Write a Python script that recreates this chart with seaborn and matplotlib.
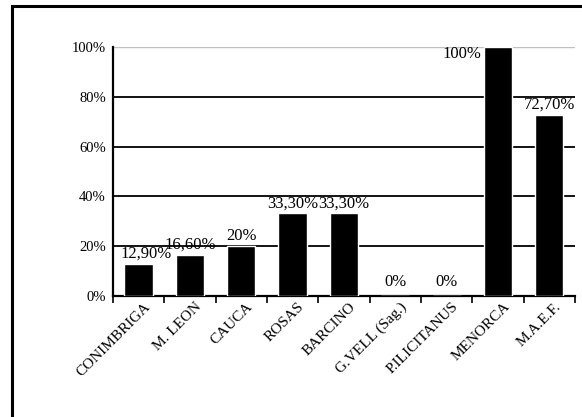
import numpy as np
import pandas as pd
import matplotlib
matplotlib.use('Agg')
import matplotlib.pyplot as plt
import matplotlib.transforms as mtransforms
import seaborn as sns
from matplotlib.patches import Rectangle

# data
sites = ['CONIMBRIGA', 'M. LEON', 'CAUCA', 'ROSAS', 'BARCINO',
         'G.VELL (Sag.)', 'P.ILICITANUS', 'MENORCA', 'M.A.E.F.']
values = [12.9, 16.6, 20.0, 33.3, 33.3, 0.0, 0.0, 100.0, 72.7]
value_labels = ['12,90%', '16,60%', '20%', '33,30%', '33,30%', '0%', '0%', '100%', '72,70%']
y_ticks = [0, 20, 40, 60, 80, 100]
y_tick_labels = ['0%', '20%', '40%', '60%', '80%', '100%']

df = pd.DataFrame({'site': sites, 'value': values})

sns.set_style('white')
plt.rcParams['font.family'] = ['Liberation Serif', 'DejaVu Serif']
plt.rcParams['text.color'] = 'black'
plt.rcParams['xtick.color'] = 'black'
plt.rcParams['ytick.color'] = 'black'

fig = plt.figure(figsize=(5.82, 4.17), dpi=100)
ax = fig.add_axes([0.194, 0.290, 0.794, 0.597])

# outer frame (cropped on the right and bottom)
fig.patches.append(Rectangle((0.021, -0.05), 1.2, 1.036, transform=fig.transFigure,
                             fill=False, edgecolor='black', linewidth=2.2, zorder=0))

sns.barplot(data=df, x='site', y='value', color='black', width=0.55,
            saturation=1, ax=ax, zorder=3)

ax.set_ylim(0, 100)
ax.set_xlim(-0.5, len(sites) - 0.5)
ax.set_yticks(y_ticks)
ax.set_yticklabels(y_tick_labels, fontsize=10.5)
ax.set_xlabel('')
ax.set_ylabel('')

# horizontal grid lines
ax.grid(axis='y', color='black', linewidth=1.3, zorder=1)
ax.set_axisbelow(True)
glines = ax.get_ygridlines()
glines[-1].set_color('0.75')
glines[-1].set_linewidth(1.0)
glines[0].set_visible(False)

# ticks between categories
ax.set_xticks(np.arange(len(sites)))
ax.set_xticklabels(sites, rotation=45, ha='right', rotation_mode='anchor', fontsize=11)
ax.set_xticks(np.arange(len(sites) + 1) - 0.5, minor=True)
ax.tick_params(axis='x', which='major', length=0, pad=3)
ax.tick_params(axis='x', which='minor', length=5, width=1.2, direction='out', color='black')
ax.tick_params(axis='y', length=4, width=1.2, direction='out', color='black', pad=1)
ax.xaxis.set_tick_params(bottom=True, which='both')

# nudge rotated labels a little to the right
shift = mtransforms.ScaledTranslation(5 / 100, 0, fig.dpi_scale_trans)
for lbl in ax.get_xticklabels():
    lbl.set_transform(lbl.get_transform() + shift)

for s in ['top', 'right']:
    ax.spines[s].set_visible(False)
for s in ['left', 'bottom']:
    ax.spines[s].set_color('black')
    ax.spines[s].set_linewidth(1.6)

# value labels
for i, (v, lab) in enumerate(zip(values, value_labels)):
    if v >= 100:
        ax.text(i - 0.32, v + 0.5, lab, ha='right', va='top', fontsize=12, zorder=4)
    elif v == 0:
        ax.text(i, 2.5, lab, ha='center', va='bottom', fontsize=12, zorder=4)
    else:
        dx = 0.15 if i == 0 else 0.0
        ax.text(i + dx, v + 0.8, lab, ha='center', va='bottom', fontsize=12, zorder=4)

fig.savefig('out.png', dpi=100)
